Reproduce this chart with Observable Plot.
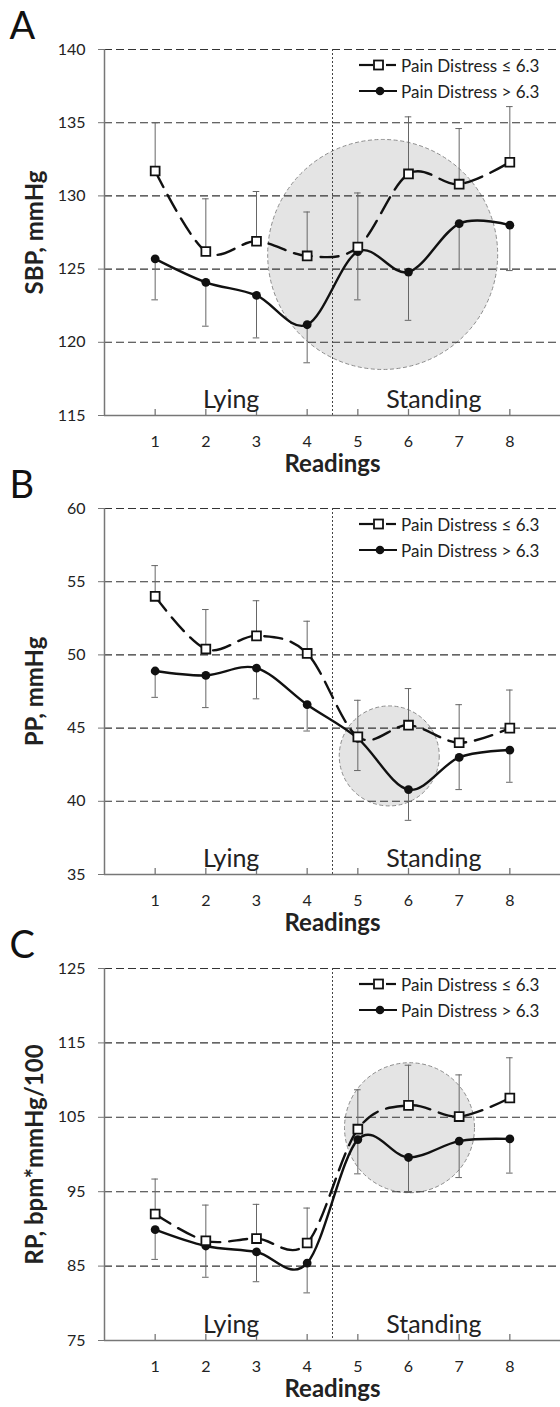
<!DOCTYPE html>
<html><head><meta charset="utf-8">
<script src="https://cdn.jsdelivr.net/npm/d3@7"></script>
<script src="https://cdn.jsdelivr.net/npm/@observablehq/plot@0.6"></script>
<style>
body{margin:0;background:#fff;font-family:Lato,sans-serif;}
#wrap{position:relative;width:560px;height:1407px;overflow:hidden;background:#fff;}
.panel{position:absolute;left:0;width:560px;}
.legrow{position:absolute;left:359px;height:20px;display:flex;align-items:center;white-space:nowrap;font-size:17px;color:#222;font-family:Lato,sans-serif;}
.legrow svg{margin-right:3px;}
</style></head><body><div id="wrap"></div>
<script>
// ---- data ----
const readings = [1, 2, 3, 4, 5, 6, 7, 8];
const lyingReadings = [1, 2, 3, 4];
const standingReadings = [5, 6, 7, 8];
const seriesNames = ["Pain Distress \u2264 6.3", "Pain Distress > 6.3"];

// Panel A: SBP
const sbpLow      = [131.7, 126.2, 126.9, 125.9, 126.5, 131.5, 130.8, 132.3];
const sbpLowUpper = [135.0, 129.8, 130.3, 128.9, 130.2, 135.4, 134.6, 136.1];
const sbpHigh      = [125.7, 124.1, 123.2, 121.2, 126.2, 124.8, 128.1, 128.0];
const sbpHighLower = [122.9, 121.1, 120.3, 118.6, 122.9, 121.5, 125.0, 124.9];
const sbpTicks = [115, 120, 125, 130, 135, 140];
const sbpHighlight = {reading: 5.49, value: 126.0, radius: 115};

// Panel B: PP
const ppLow      = [54.0, 50.4, 51.3, 50.1, 44.4, 45.2, 44.0, 45.0];
const ppLowUpper = [56.1, 53.1, 53.7, 52.3, 46.9, 47.7, 46.6, 47.6];
const ppHigh      = [48.9, 48.6, 49.1, 46.6, 44.3, 40.8, 43.0, 43.5];
const ppHighLower = [47.1, 46.4, 47.0, 44.8, 42.1, 38.7, 40.8, 41.3];
const ppTicks = [35, 40, 45, 50, 55, 60];
const ppHighlight = {reading: 5.62, value: 43.1, radius: 50};

// Panel C: RP
const rpLow      = [92.0, 88.4, 88.7, 88.1, 103.4, 106.6, 105.1, 107.6];
const rpLowUpper = [96.7, 93.2, 93.3, 92.8, 108.7, 112.0, 110.7, 113.0];
const rpHigh      = [89.9, 87.7, 86.9, 85.4, 102.0, 99.6, 101.8, 102.1];
const rpHighLower = [85.9, 83.5, 82.9, 81.4, 97.4, 94.9, 96.9, 97.5];
const rpTicks = [75, 85, 95, 105, 115, 125];
const rpHighlight = {reading: 6.02, value: 103.6, radius: 65};

const panels = [
  {letter: "A", ylabel: "SBP, mmHg", low: sbpLow, lowErr: sbpLowUpper, high: sbpHigh, highErr: sbpHighLower, ticks: sbpTicks, hl: sbpHighlight, top: 49, bottom: 415},
  {letter: "B", ylabel: "PP, mmHg", low: ppLow, lowErr: ppLowUpper, high: ppHigh, highErr: ppHighLower, ticks: ppTicks, hl: ppHighlight, top: 508, bottom: 874},
  {letter: "C", ylabel: "RP, bpm*mmHg/100", low: rpLow, lowErr: rpLowUpper, high: rpHigh, highErr: rpHighLower, ticks: rpTicks, hl: rpHighlight, top: 968, bottom: 1340}
];

const wrap = document.getElementById("wrap");
const MT = 49, MB = 66, ML = 104;
const phases = [
  {label: "Lying", x: d3.mean(lyingReadings)},
  {label: "Standing", x: d3.mean(standingReadings)}
];
const divide = (d3.max(lyingReadings) + d3.min(standingReadings)) / 2;

for (const p of panels) {
  const low = readings.map((r, i) => ({x: r, y: p.low[i], e: p.lowErr[i]}));
  const high = readings.map((r, i) => ({x: r, y: p.high[i], e: p.highErr[i]}));
  const y0 = d3.min(p.ticks), y1 = d3.max(p.ticks);
  const h = p.bottom - p.top;
  const tickLen = (y1 - y0) * 6 / h;
  const cap = 0.065;
  const errStroke = "#666";
  const chart = Plot.plot({
    width: 560, height: MT + h + MB,
    marginTop: MT, marginBottom: MB, marginLeft: ML, marginRight: 0,
    x: {domain: [0, 9]},
    y: {domain: [y0, y1]},
    style: {background: "transparent", fontFamily: "Lato, sans-serif", color: "#222", overflow: "visible"},
    marks: [
      Plot.dot([p.hl], {x: "reading", y: "value", r: p.hl.radius, fill: "#e4e4e4", stroke: "#8c8c8c", strokeDasharray: "4,2.5", strokeWidth: 1}),
      Plot.ruleY(p.ticks.filter(t => t !== y0), {stroke: "#333", strokeDasharray: "8,4", strokeWidth: 1.1}),
      Plot.ruleX([divide], {stroke: "#444", strokeDasharray: "2,2", strokeWidth: 1}),
      Plot.ruleX([0], {stroke: "#777", strokeWidth: 1.5}),
      Plot.ruleY([y0], {stroke: "#777", strokeWidth: 1.5}),
      Plot.ruleX(readings, {x: d => d, y1: y0, y2: y0 + tickLen, stroke: "#777", strokeWidth: 1.3}),
      Plot.axisY({ticks: p.ticks, tickSize: 6, tickPadding: 13, fontSize: 16, stroke: "#777", tickFormat: d => d, label: null}),
      Plot.axisX({ticks: readings, tickSize: 0, tickPadding: 20, fontSize: 16, tickFormat: d => d, label: null}),
      // error bars
      Plot.ruleX(low, {x: "x", y1: "y", y2: "e", stroke: errStroke, strokeWidth: 1}),
      Plot.ruleY(low, {y: "e", x1: d => d.x - cap, x2: d => d.x + cap, stroke: errStroke, strokeWidth: 1}),
      Plot.ruleX(high, {x: "x", y1: "y", y2: "e", stroke: errStroke, strokeWidth: 1}),
      Plot.ruleY(high, {y: "e", x1: d => d.x - cap, x2: d => d.x + cap, stroke: errStroke, strokeWidth: 1}),
      // lines
      Plot.line(low, {x: "x", y: "y", curve: "cardinal", stroke: "#111", strokeWidth: 2.4, strokeDasharray: "18,9"}),
      Plot.line(high, {x: "x", y: "y", curve: "cardinal", stroke: "#111", strokeWidth: 2.4}),
      Plot.dot(high, {x: "x", y: "y", r: 4.4, fill: "#111"}),
      Plot.dot(low, {x: "x", y: "y", symbol: "square", r: 5, fill: "white", stroke: "#111", strokeWidth: 1.8}),
      // annotations
      Plot.text(phases, {x: "x", text: "label", frameAnchor: "bottom", lineAnchor: "bottom", dy: -8, fontSize: 25, fill: "#222"}),
      Plot.text([p.ylabel], {frameAnchor: "left", dx: -69, rotate: -90, textAnchor: "middle", lineAnchor: "middle", fontSize: 24, fontWeight: "bold", fill: "#222"}),
      Plot.text(["Readings"], {frameAnchor: "bottom", dy: 49, textAnchor: "middle", lineAnchor: "middle", fontSize: 24, fontWeight: "bold", fill: "#222"}),
      Plot.text([p.letter], {frameAnchor: "top-left", dx: -95, dy: -10.5, textAnchor: "start", lineAnchor: "bottom", fontSize: 38, fill: "#111"})
    ]
  });
  const div = document.createElement("div");
  div.className = "panel";
  div.style.top = (p.top - MT) + "px";
  div.appendChild(chart);
  wrap.appendChild(div);

  // legend
  const rows = [
    {name: seriesNames[0], y: p.top + 16, kind: "square"},
    {name: seriesNames[1], y: p.top + 42, kind: "circle"}
  ];
  for (const r of rows) {
    const row = document.createElement("div");
    row.className = "legrow";
    row.style.top = (r.y - 10) + "px";
    const sample = r.kind === "square"
      ? '<svg width="39" height="14"><line x1="0" y1="7" x2="14" y2="7" stroke="#111" stroke-width="2.2"/><rect x="15" y="2.5" width="9" height="9" fill="white" stroke="#111" stroke-width="1.8"/><line x1="27" y1="7" x2="37" y2="7" stroke="#111" stroke-width="2.2"/></svg>'
      : '<svg width="39" height="14"><line x1="0" y1="7" x2="38" y2="7" stroke="#111" stroke-width="2.2"/><circle cx="21" cy="7" r="4.3" fill="#111"/></svg>';
    row.innerHTML = sample + "<span>" + r.name + "</span>";
    wrap.appendChild(row);
  }
}
</script></body></html>
